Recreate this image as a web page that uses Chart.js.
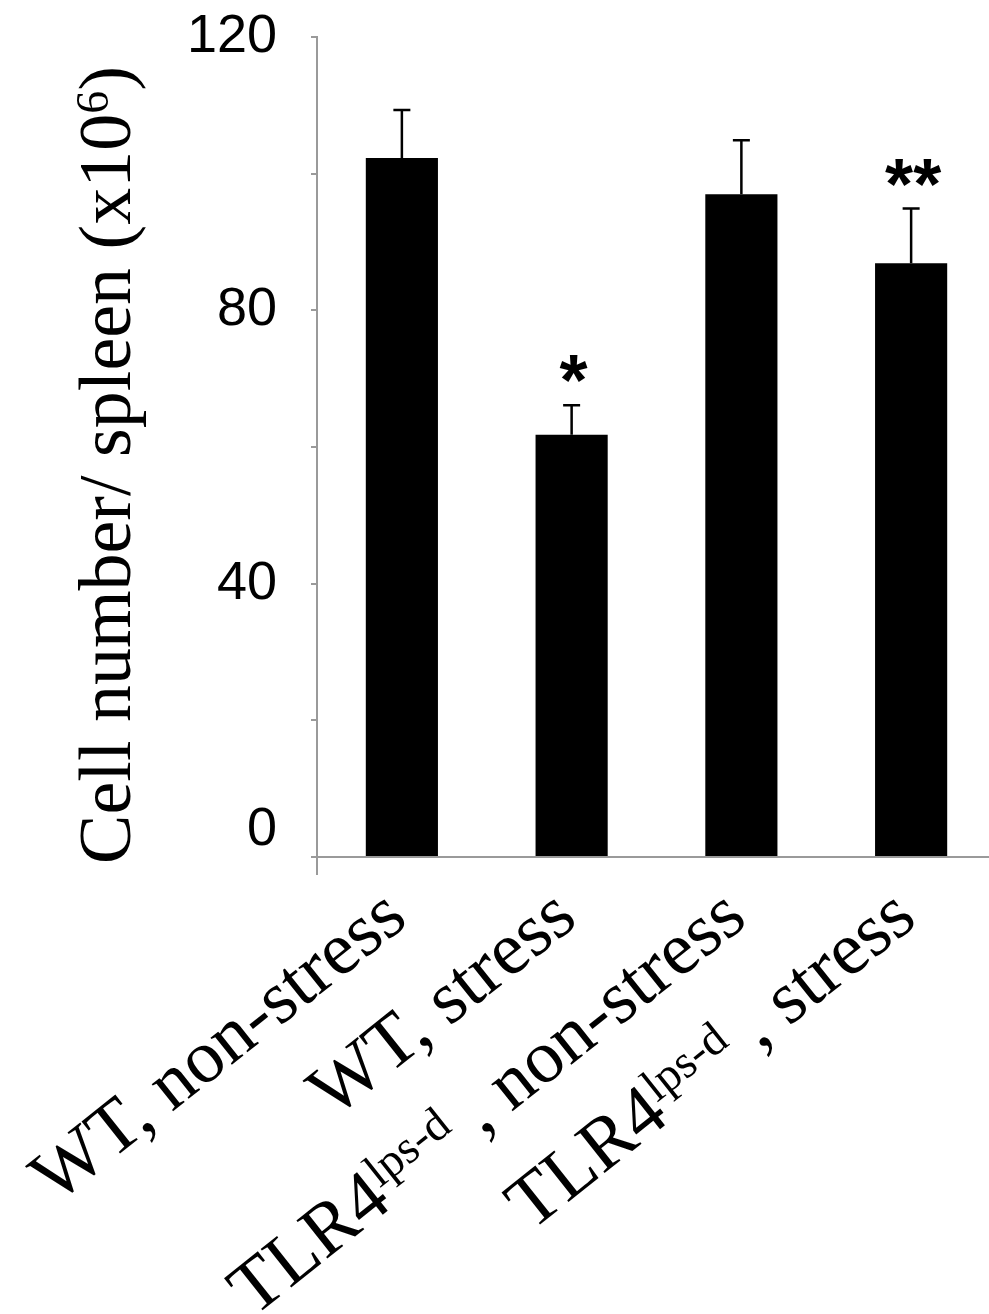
<!DOCTYPE html>
<html>
<head>
<meta charset="utf-8">
<script src="https://cdn.jsdelivr.net/npm/chart.js@4.4.1/dist/chart.umd.min.js"></script>
<style>
    html, body { margin: 0; padding: 0; background: #fff; overflow: hidden; }
    #wrap { width: 996px; height: 1314px; position: relative; }
</style>
</head>
<body>
<div id="wrap"><canvas id="chart"></canvas></div>
<script>
// Data
const categories = ['WT, non-stress', 'WT, stress', 'TLR4^{lps-d} , non-stress', 'TLR4^{lps-d} , stress'];
const cellCounts = [102.3, 61.8, 97.0, 86.9];
const errorUp = [7.0, 4.3, 7.9, 8.0];
const marks = ['', '*', '', '**'];
const yTicks = [0, 40, 80, 120];
const yTitle = 'Cell number/ spleen (x10^{6})';

const SERIF = "'Liberation Serif', 'Times New Roman', serif";
const SANS = "'Liberation Sans', Arial, sans-serif";
const AXIS_GREY = '#9a9a9a';

// split "abc^{sup}def" into pieces
function parseSup(str) {
    const parts = [];
    const re = /\^\{(.*?)\}/g;
    let last = 0, m;
    while ((m = re.exec(str)) !== null) {
        if (m.index > last) parts.push({ t: str.slice(last, m.index), sup: false });
        parts.push({ t: m[1], sup: true });
        last = re.lastIndex;
    }
    if (last < str.length) parts.push({ t: str.slice(last), sup: false });
    return parts;
}

// draws text with superscripts, baseline at y=0 (after transforms)
function drawRich(ctx, str, size, align) {
    const parts = parseSup(str);
    const supSize = Math.round(size * 0.62);
    let total = 0;
    parts.forEach(p => {
        ctx.font = `${p.sup ? supSize : size}px ${SERIF}`;
        p.w = ctx.measureText(p.t).width;
        total += p.w;
    });
    let x = align === 'right' ? -total : (align === 'center' ? -total / 2 : 0);
    ctx.textAlign = 'left';
    ctx.textBaseline = 'alphabetic';
    parts.forEach(p => {
        ctx.font = `${p.sup ? supSize : size}px ${SERIF}`;
        ctx.fillText(p.t, x, p.sup ? -size * 0.3 : 0);
        x += p.w;
    });
}

const errorBars = {
    id: 'errorBars',
    afterDatasetsDraw(chart) {
        const ctx = chart.ctx;
        const y = chart.scales.y;
        const meta = chart.getDatasetMeta(0);
        ctx.save();
        ctx.strokeStyle = '#000';
        ctx.lineWidth = 2.5;
        meta.data.forEach((bar, i) => {
            const top = y.getPixelForValue(cellCounts[i] + errorUp[i]);
            ctx.beginPath();
            ctx.moveTo(bar.x, bar.y);
            ctx.lineTo(bar.x, top);
            ctx.moveTo(bar.x - 8.5, top);
            ctx.lineTo(bar.x + 8.5, top);
            ctx.stroke();
            if (marks[i]) {
                ctx.fillStyle = '#000';
                ctx.font = `bold 72px ${SANS}`;
                ctx.textAlign = 'center';
                ctx.textBaseline = 'alphabetic';
                ctx.fillText(marks[i], bar.x + 2, top);
            }
        });
        ctx.restore();
    }
};

const richLabels = {
    id: 'richLabels',
    afterDraw(chart) {
        const ctx = chart.ctx;
        const x = chart.scales.x;
        const area = chart.chartArea;
        const angle = 38.5 * Math.PI / 180;
        ctx.save();
        ctx.fillStyle = '#000';
        // rotated category labels, text end near the tick
        categories.forEach((label, i) => {
            ctx.save();
            ctx.translate(x.getPixelForValue(i) + 8, area.bottom + 66);
            ctx.rotate(-angle);
            drawRich(ctx, label, 75, 'right');
            ctx.restore();
        });
        // vertical axis title
        ctx.save();
        ctx.translate(130, (area.top + area.bottom) / 2 + 18);
        ctx.rotate(-Math.PI / 2);
        drawRich(ctx, yTitle, 74, 'center');
        ctx.restore();
        ctx.restore();
    }
};

new Chart(document.getElementById('chart'), {
    type: 'bar',
    data: {
        labels: categories,
        datasets: [{
            data: cellCounts,
            backgroundColor: '#000',
            borderWidth: 0,
            barPercentage: 0.425,
            categoryPercentage: 1.0
        }]
    },
    options: {
        responsive: true,
        maintainAspectRatio: false,
        animation: false,
        layout: { padding: { top: 37, left: 0, right: 0, bottom: 0 } },
        plugins: { legend: { display: false }, tooltip: { enabled: false } },
        scales: {
            x: {
                ticks: { display: false },
                grid: {
                    offset: true,
                    drawOnChartArea: false,
                    drawTicks: true,
                    tickLength: 18,
                    lineWidth: 2,
                    // only the first boundary tick shows (below the y axis)
                    color: c => c.index === 0 ? AXIS_GREY : 'rgba(0,0,0,0)'
                },
                border: { color: AXIS_GREY, width: 2 },
                afterFit(scale) { scale.height = 457; }
            },
            y: {
                min: 0,
                max: 120,
                ticks: {
                    stepSize: 20,
                    color: '#000',
                    padding: 34,
                    font: { family: SANS, size: 54, lineHeight: 1 },
                    // only 0/40/80/120 carry labels; the 0 sits a bit higher
                    callback: v => yTicks.includes(v) ? (v === 0 ? ['0', ''] : String(v)) : ''
                },
                grid: { drawOnChartArea: false, drawTicks: true, tickLength: 6, color: AXIS_GREY, lineWidth: 2 },
                border: { color: AXIS_GREY, width: 2 },
                afterFit(scale) {
                    scale.width = 317;
                    // the tick padding should not push the plot down
                    scale.paddingTop = 0;
                    scale.paddingBottom = 0;
                }
            }
        }
    },
    plugins: [errorBars, richLabels]
});
</script>
</body>
</html>
